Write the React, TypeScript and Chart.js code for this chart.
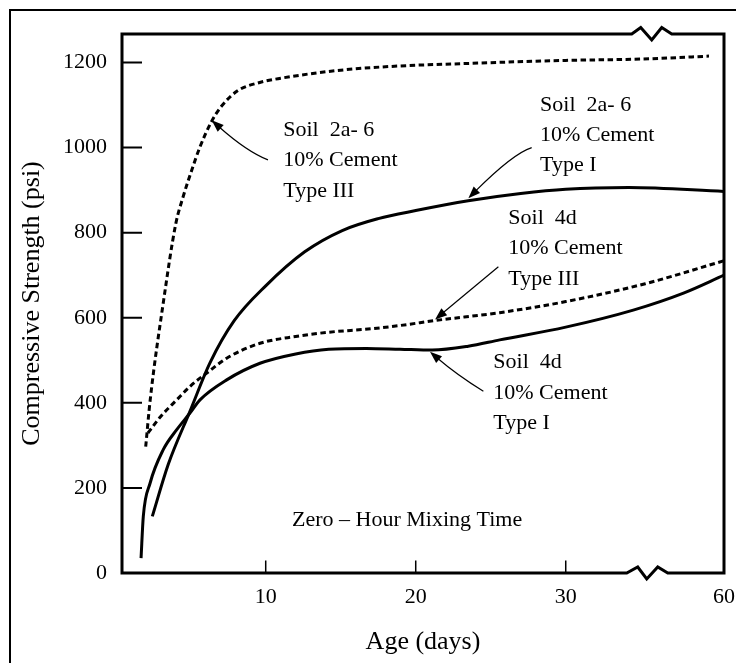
import React, { useEffect, useRef } from "react";
import { Chart, registerables } from "chart.js";

Chart.register(...registerables);

// Age axis: up to BREAK_DAY the days run on a plain linear scale, then the axis
// is broken and resumes for the last stretch that ends at 60 days.
const BREAK_DAY = 35.4;
const HIDDEN_DAYS = 19.45;
const toAxis = (day: number) => (day <= BREAK_DAY ? day : day - HIDDEN_DAYS);
const toDay = (u: number) => (u <= BREAK_DAY + 1e-6 ? u : u + HIDDEN_DAYS);

const AXIS_MIN_DAY = 0.42;
const AXIS_MAX_DAY = 60;
const xTickDays = [10, 20, 30, 60];
const yTickValues = [0, 200, 400, 600, 800, 1000, 1200];
const Y_MAX = 1267;

// Soil 2a-6, 10% cement, Type III
const soil2a6TypeIIIDays = [2.0, 2.3, 3.2, 4.0, 4.5, 5.1, 5.6, 6.4, 7.0, 8.1, 9.6, 11, 15, 19, 22, 30, 35, 59];
const soil2a6TypeIIIPsi = [297, 407, 642, 820, 885, 950, 1000, 1062, 1095, 1133, 1153, 1163, 1182, 1192, 1196, 1205, 1208, 1215];

// Soil 2a-6, 10% cement, Type I
const soil2a6TypeIDays = [2.44, 3.5, 4.95, 6.3, 7.9, 10, 12.6, 15.1, 17.5, 20, 23.5, 27, 30, 34.2, 60];
const soil2a6TypeIPsi = [133, 255, 380, 495, 593, 675, 755, 805, 833, 852, 875, 892, 902, 906, 897];

// Soil 4d, 10% cement, Type III
const soil4dTypeIIIDays = [2.15, 3.0, 4.07, 5.0, 6.07, 7.4, 9.62, 12, 14.2, 17, 19, 21.4, 25.6, 30, 35.3, 60];
const soil4dTypeIIIPsi = [329, 368, 407, 440, 470, 505, 540, 556, 566, 574, 582, 594, 612, 638, 680, 734];

// Soil 4d, 10% cement, Type I
const soil4dTypeIDays = [1.69, 1.84, 2.29, 3.17, 4.07, 4.95, 5.62, 7.4, 9.62, 12, 14.2, 16.7, 18.95, 21.1, 23.5, 25.6, 30, 34.5, 57.3, 60];
const soil4dTypeIPsi = [35, 133, 211, 290, 337, 376, 407, 454, 493, 515, 526, 528, 526, 524, 533, 548, 578, 618, 658, 700];

const SERIF = '"Liberation Serif", "Times New Roman", serif';
const DASH = [5.5, 3.5];

type Pt = [number, number]; // [day, psi]
type Note = { lines: string[]; at: Pt; tail: Pt; bend?: Pt; tip: Pt };

// Callout labels with their pointer arrows, placed in (day, psi) coordinates.
const notes: Note[] = [
  { lines: ["Soil  2a- 6", "10% Cement", "Type III"], at: [11.17, 1041], tail: [10.15, 971], bend: [8.73, 991], tip: [6.4, 1064] },
  { lines: ["Soil  2a- 6", "10% Cement", "Type I"], at: [28.29, 1100], tail: [27.73, 1000], bend: [26.49, 986], tip: [23.51, 881] },
  { lines: ["Soil  4d", "10% Cement", "Type III"], at: [26.17, 834], tail: [25.51, 720], tip: [21.29, 596] },
  { lines: ["Soil  4d", "10% Cement", "Type I"], at: [25.17, 495], tail: [24.51, 427], bend: [22.73, 466], tip: [20.95, 520] },
];
const caption = { text: "Zero \u2013 Hour Mixing Time", at: [11.75, 125] as Pt };

const series = (days: number[], psi: number[]) => days.map((d, i) => ({ x: toAxis(d), y: psi[i] }));

const decorPlugin = {
  id: "decor",
  beforeDraw(chart: any) {
    const { ctx } = chart;
    ctx.save();
    ctx.strokeStyle = "#000";
    ctx.lineWidth = 2;
    ctx.strokeRect(10, 10, 760, 700);
    ctx.restore();
  },
  afterDatasetsDraw(chart: any) {
    const { ctx, chartArea: a, scales } = chart;
    const xs = scales.x;
    const ys = scales.y;
    const px = (d: number) => xs.getPixelForValue(toAxis(d));
    const py = (v: number) => ys.getPixelForValue(v);
    ctx.save();
    ctx.strokeStyle = "#000";
    ctx.fillStyle = "#000";

    // Plot frame with the break marks on the top and bottom edges
    const bx = xs.getPixelForValue(BREAK_DAY);
    const bt = bx + 5;
    ctx.lineWidth = 3;
    ctx.lineJoin = "miter";
    ctx.beginPath();
    ctx.moveTo(a.left, a.bottom);
    ctx.lineTo(a.left, a.top);
    ctx.lineTo(bt - 20, a.top);
    ctx.lineTo(bt - 11, a.top - 6.5);
    ctx.lineTo(bt, a.top + 6);
    ctx.lineTo(bt + 10, a.top - 6.5);
    ctx.lineTo(bt + 20, a.top);
    ctx.lineTo(a.right, a.top);
    ctx.lineTo(a.right, a.bottom);
    ctx.lineTo(bx + 21, a.bottom);
    ctx.lineTo(bx + 11, a.bottom - 6);
    ctx.lineTo(bx, a.bottom + 6);
    ctx.lineTo(bx - 9, a.bottom - 6);
    ctx.lineTo(bx - 20, a.bottom);
    ctx.closePath();
    ctx.stroke();

    // Inward tick marks
    ctx.lineWidth = 2;
    ctx.beginPath();
    yTickValues.forEach((v) => {
      const y = py(v);
      ctx.moveTo(a.left, y);
      ctx.lineTo(a.left + 20, y);
    });
    ctx.stroke();
    ctx.lineWidth = 1.5;
    ctx.beginPath();
    xTickDays.filter((d) => d < AXIS_MAX_DAY).forEach((d) => {
      const x = px(d);
      ctx.moveTo(x, a.bottom);
      ctx.lineTo(x, a.bottom - 12.5);
    });
    ctx.stroke();
    ctx.restore();
  },
  afterDraw(chart: any) {
    const { ctx, scales } = chart;
    const xs = scales.x;
    const ys = scales.y;
    const P = (p: Pt) => [xs.getPixelForValue(toAxis(p[0])), ys.getPixelForValue(p[1])];
    ctx.save();
    ctx.fillStyle = "#000";
    ctx.strokeStyle = "#000";
    ctx.font = `22px ${SERIF}`;
    ctx.textAlign = "left";
    ctx.textBaseline = "middle";

    notes.forEach((n) => {
      const [tx, ty] = P(n.at);
      n.lines.forEach((line, i) => ctx.fillText(line, tx, ty + i * 30.3));

      const [sx, sy] = P(n.tail);
      const [ex, ey] = P(n.tip);
      const [cx, cy] = n.bend ? P(n.bend) : [(sx + ex) / 2, (sy + ey) / 2];
      let dx = ex - cx;
      let dy = ey - cy;
      const len = Math.hypot(dx, dy) || 1;
      dx /= len;
      dy /= len;
      const head = 12;
      const half = 4.5;
      const bxp = ex - dx * head;
      const byp = ey - dy * head;
      ctx.lineWidth = 1.2;
      ctx.beginPath();
      ctx.moveTo(sx, sy);
      ctx.quadraticCurveTo(cx, cy, bxp + dx * 2, byp + dy * 2);
      ctx.stroke();
      ctx.beginPath();
      ctx.moveTo(ex, ey);
      ctx.lineTo(bxp - dy * half, byp + dx * half);
      ctx.lineTo(bxp + dy * half, byp - dx * half);
      ctx.closePath();
      ctx.fill();
    });

    const [cx, cy] = P(caption.at);
    ctx.fillText(caption.text, cx, cy);
    ctx.restore();
  },
};

export default function App() {
  const canvasRef = useRef<HTMLCanvasElement | null>(null);

  useEffect(() => {
    const canvas = canvasRef.current;
    if (!canvas) return;
    const line = (data: { x: number; y: number }[], dashed: boolean) => ({
      data,
      borderColor: "#000",
      borderWidth: 3,
      borderDash: dashed ? DASH : [],
      borderCapStyle: "butt" as const,
      pointRadius: 0,
      fill: false,
      cubicInterpolationMode: "monotone" as const,
    });

    const chart = new Chart(canvas, {
      type: "line",
      data: {
        datasets: [
          { label: "Soil 2a-6, Type III", ...line(series(soil2a6TypeIIIDays, soil2a6TypeIIIPsi), true) },
          { label: "Soil 2a-6, Type I", ...line(series(soil2a6TypeIDays, soil2a6TypeIPsi), false) },
          { label: "Soil 4d, Type III", ...line(series(soil4dTypeIIIDays, soil4dTypeIIIPsi), true) },
          { label: "Soil 4d, Type I", ...line(series(soil4dTypeIDays, soil4dTypeIPsi), false) },
        ],
      },
      options: {
        animation: false,
        responsive: false,
        devicePixelRatio: 1,
        layout: { padding: { top: 34, right: 12, left: 0, bottom: 0 } },
        plugins: { legend: { display: false }, tooltip: { enabled: false } },
        scales: {
          x: {
            type: "linear",
            min: toAxis(AXIS_MIN_DAY),
            max: toAxis(AXIS_MAX_DAY),
            afterBuildTicks: (s: any) => {
              s.ticks = xTickDays.map((d) => ({ value: toAxis(d) }));
            },
            afterFit: (s: any) => {
              s.height = 90;
              s.paddingLeft = 0;
              s.paddingRight = 0;
            },
            grid: { display: false, drawTicks: false },
            border: { display: false },
            ticks: {
              autoSkip: false,
              maxRotation: 0,
              padding: 11,
              color: "#000",
              font: { family: SERIF, size: 22 },
              callback: (v: any) => String(Math.round(toDay(Number(v)))),
            },
            title: {
              display: true,
              text: "Age (days)",
              color: "#000",
              font: { family: SERIF, size: 26 },
              padding: { top: 0, bottom: 5 },
            },
          },
          y: {
            type: "linear",
            min: 0,
            max: Y_MAX,
            afterBuildTicks: (s: any) => {
              s.ticks = yTickValues.map((v) => ({ value: v }));
            },
            afterFit: (s: any) => {
              s.width = 122;
              s.paddingTop = 0;
              s.paddingBottom = 0;
            },
            grid: { display: false, drawTicks: false },
            border: { display: false },
            ticks: {
              padding: 15,
              color: "#000",
              font: { family: SERIF, size: 22 },
              callback: (v: any) => String(v),
            },
            title: {
              display: true,
              text: "Compressive Strength (psi)",
              color: "#000",
              font: { family: SERIF, size: 26 },
              padding: { top: 17, bottom: 0 },
            },
          },
        },
      },
      plugins: [decorPlugin],
    });
    return () => chart.destroy();
  }, []);

  return (
    <div style={{ position: "fixed", left: 0, top: 0, width: 736, height: 663, background: "#fff" }}>
      <canvas ref={canvasRef} width={736} height={663} />
    </div>
  );
}
